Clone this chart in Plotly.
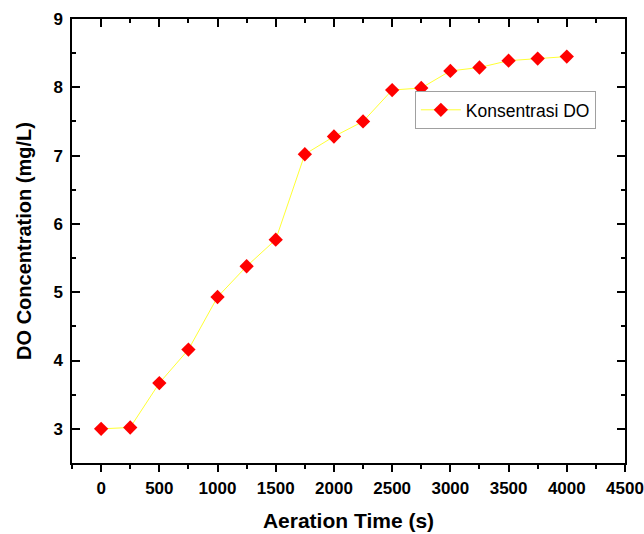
import plotly.graph_objects as go

# Aeration time (s) and measured dissolved-oxygen concentration (mg/L)
time_s = [0, 250, 500, 750, 1000, 1250, 1500, 1750, 2000, 2250, 2500, 2750, 3000, 3250, 3500, 3750, 4000]
do_mg_l = [3.00, 3.02, 3.67, 4.16, 4.93, 5.38, 5.77, 7.02, 7.28, 7.50, 7.96, 7.99, 8.24, 8.29, 8.39, 8.42, 8.45]

series_name = "Konsentrasi DO"
x_ticks = [0, 500, 1000, 1500, 2000, 2500, 3000, 3500, 4000, 4500]
y_ticks = [3, 4, 5, 6, 7, 8, 9]

FONT = "Liberation Sans, Arial, sans-serif"

fig = go.Figure()
fig.add_trace(go.Scatter(
    x=time_s, y=do_mg_l, name=series_name, mode="lines+markers",
    line=dict(color="#ffff33", width=1),
    marker=dict(symbol="diamond", size=11, color="#ff0000", line=dict(width=0)),
))
# helper trace so the top (mirror) axis with inward ticks gets drawn
fig.add_trace(go.Scatter(
    x=time_s, y=do_mg_l, xaxis="x2", mode="markers",
    marker=dict(opacity=0), showlegend=False, hoverinfo="skip",
))

x_range = [-250, 4500]
y_range = [2.5, 9]

fig.update_layout(
    width=644, height=534,
    margin=dict(l=72, r=19, t=19, b=71),
    paper_bgcolor="white", plot_bgcolor="white",
    font=dict(family=FONT, color="black"),
    showlegend=True,
    legend=dict(
        x=0.62, y=0.838, xanchor="left", yanchor="top",
        bgcolor="white", bordercolor="#a0a0a0", borderwidth=1,
        font=dict(family=FONT, size=17.5, color="black"),
        itemwidth=40, tracegroupgap=0,
    ),
    xaxis=dict(
        range=x_range, tickvals=x_ticks, showgrid=False, zeroline=False,
        automargin=False,
        showline=True, linecolor="black", linewidth=1.5, mirror=True,
        ticks="outside", ticklen=7, tickwidth=1.5, tickcolor="black",
        minor=dict(dtick=250, tick0=0, ticks="outside", ticklen=4, tickwidth=1.5, tickcolor="black", showgrid=False),
        tickfont=dict(family=FONT, size=17, weight="bold"),
        ticklabelstandoff=2,
        title=dict(text="Aeration Time (s)", font=dict(family=FONT, size=21, weight="bold"), standoff=16),
    ),
    xaxis2=dict(
        range=x_range, tickvals=x_ticks, overlaying="x", side="top", anchor="y",
        showgrid=False, zeroline=False, showline=False, showticklabels=False,
        ticks="inside", ticklen=8, tickwidth=1.5, tickcolor="black",
        minor=dict(dtick=250, tick0=0, ticks="inside", ticklen=4, tickwidth=1.5, tickcolor="black", showgrid=False),
    ),
    yaxis=dict(
        range=y_range, tickvals=y_ticks, showgrid=False, zeroline=False,
        automargin=False,
        showline=True, linecolor="black", linewidth=1.5, mirror="ticks",
        ticks="inside", ticklen=8, tickwidth=1.5, tickcolor="black",
        minor=dict(dtick=0.5, tick0=0, ticks="inside", ticklen=4, tickwidth=1.5, tickcolor="black", showgrid=False),
        tickfont=dict(family=FONT, size=17, weight="bold"),
        ticklabelstandoff=4,
        title=dict(text="DO Concentration (mg/L)", font=dict(family=FONT, size=20, weight="bold"), standoff=16),
    ),
)

fig.write_html("out.html")
